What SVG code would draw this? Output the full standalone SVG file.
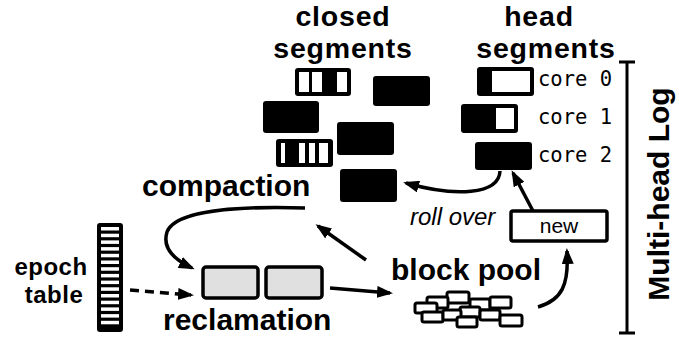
<svg xmlns="http://www.w3.org/2000/svg" width="679" height="347" viewBox="0 0 679 347">
  <style>
    .title { font-family: "Liberation Sans", Arial, sans-serif; font-weight: bold; font-size: 28.5px; letter-spacing: 0.8px; fill: #000; }
    .label { font-family: "Liberation Sans", Arial, sans-serif; font-weight: bold; font-size: 30px; fill: #000; }
    .small { font-family: "Liberation Sans", Arial, sans-serif; font-weight: bold; font-size: 24px; letter-spacing: 0.5px; fill: #000; }
    .mono { font-family: "DejaVu Sans Mono", "Liberation Mono", monospace; font-size: 20.5px; fill: #000; }
    .seg { fill: #000; }
    .hole { fill: #fff; }
    .gray { fill: #e0e0e0; stroke: #000; stroke-width: 3.5; }
    .brick { fill: #fff; stroke: #000; stroke-width: 3; }
    .conn { fill: none; stroke: #000; stroke-width: 3.5; }
  </style>
  <defs>
    <marker id="arrow" markerUnits="userSpaceOnUse" markerWidth="16" markerHeight="12" refX="13" refY="6" orient="auto">
      <path d="M0,0 L16,6 L0,12 z" fill="#000"/>
    </marker>
  </defs>

  <rect width="679" height="347" fill="#fff"/>

  <!-- column headings (two-line labels) -->
  <g id="closed-title">
    <text class="title" text-anchor="middle"><tspan x="343" y="25.5">closed</tspan><tspan x="343" y="57.5">segments</tspan></text>
  </g>
  <g id="head-title">
    <text class="title" text-anchor="middle"><tspan x="539" y="25.5">head</tspan><tspan x="546" y="57.5">segments</tspan></text>
  </g>

  <!-- closed segments -->
  <g id="closed-segments">
    <rect class="seg" x="295" y="68" width="56" height="28" rx="3"/>
    <rect class="hole" x="299" y="72" width="10" height="20"/>
    <rect class="hole" x="312" y="72" width="10" height="20"/>
    <rect class="hole" x="337" y="72" width="10" height="20"/>

    <rect class="seg" x="373" y="76" width="57" height="30" rx="3"/>
    <rect class="seg" x="263" y="101" width="56" height="32" rx="3"/>
    <rect class="seg" x="337" y="122" width="57" height="33" rx="3"/>

    <rect class="seg" x="276" y="139" width="57" height="28" rx="3"/>
    <rect class="hole" x="281" y="143" width="4" height="20"/>
    <rect class="hole" x="299" y="143" width="6" height="20"/>
    <rect class="hole" x="309" y="143" width="6" height="20"/>
    <rect class="hole" x="319" y="143" width="9" height="20"/>

    <rect class="seg" x="340" y="169" width="57" height="33" rx="3"/>
  </g>

  <!-- head segments, one per core -->
  <g id="head-core0">
    <rect class="seg" x="477" y="67" width="57" height="29" rx="3"/>
    <rect class="hole" x="492" y="71" width="38" height="21"/>
    <text class="mono" x="538" y="86">core 0</text>
  </g>
  <g id="head-core1">
    <rect class="seg" x="461" y="104" width="57" height="29" rx="3"/>
    <rect class="hole" x="496" y="108" width="18" height="21"/>
    <text class="mono" x="538" y="124">core 1</text>
  </g>
  <g id="head-core2">
    <rect class="seg" x="475" y="142" width="57" height="28" rx="3"/>
    <text class="mono" x="538" y="162">core 2</text>
  </g>

  <!-- new segment -->
  <g id="new-segment">
    <rect x="511" y="211" width="96" height="30" fill="#fff" stroke="#000" stroke-width="3.5" rx="2"/>
    <text x="559" y="233" text-anchor="middle" font-family="Liberation Sans, Arial, sans-serif" font-size="21">new</text>
  </g>

  <text id="roll-over" x="410" y="225" font-family="Liberation Sans, Arial, sans-serif" font-style="italic" font-size="24">roll over</text>

  <g id="compaction">
    <text class="label" x="142" y="196">compaction</text>
  </g>

  <g id="reclamation">
    <rect class="gray" x="203" y="267" width="55" height="31" rx="3"/>
    <rect class="gray" x="266" y="267" width="56" height="31" rx="3"/>
    <text class="label" x="163" y="330">reclamation</text>
  </g>

  <g id="block-pool">
    <text class="label" x="391" y="280">block pool</text>
    <rect class="brick" x="447" y="292" width="22" height="11" rx="2"/>
    <rect class="brick" x="427" y="297" width="21" height="11" rx="2"/>
    <rect class="brick" x="470" y="299" width="20" height="11" rx="2"/>
    <rect class="brick" x="490" y="297" width="21" height="11" rx="2"/>
    <rect class="brick" x="415" y="303" width="22" height="10" rx="2"/>
    <rect class="brick" x="460" y="307" width="20" height="10" rx="2"/>
    <rect class="brick" x="480" y="310" width="20" height="10" rx="2"/>
    <rect class="brick" x="422" y="312" width="21" height="10" rx="2"/>
    <rect class="brick" x="443" y="310" width="18" height="10" rx="2"/>
    <rect class="brick" x="457" y="317" width="20" height="10" rx="2"/>
    <rect class="brick" x="500" y="315" width="22" height="11" rx="2"/>
  </g>

  <g id="epoch-table">
    <rect x="97" y="223" width="26" height="109" rx="3" fill="#000"/>
    <g fill="#fff">
      <rect x="101" y="227" width="18" height="3.5"/>
      <rect x="101" y="233.7" width="18" height="3.5"/>
      <rect x="101" y="240.4" width="18" height="3.5"/>
      <rect x="101" y="247.1" width="18" height="3.5"/>
      <rect x="101" y="253.8" width="18" height="3.5"/>
      <rect x="101" y="260.5" width="18" height="3.5"/>
      <rect x="101" y="267.2" width="18" height="3.5"/>
      <rect x="101" y="273.9" width="18" height="3.5"/>
      <rect x="101" y="280.6" width="18" height="3.5"/>
      <rect x="101" y="287.3" width="18" height="3.5"/>
      <rect x="101" y="294" width="18" height="3.5"/>
      <rect x="101" y="300.7" width="18" height="3.5"/>
      <rect x="101" y="307.4" width="18" height="3.5"/>
      <rect x="101" y="314.1" width="18" height="3.5"/>
      <rect x="101" y="320.8" width="18" height="3.5"/>
    </g>
    <text class="small" text-anchor="middle"><tspan x="51" y="275">epoch</tspan><tspan x="54" y="302.5">table</tspan></text>
  </g>

  <g id="multi-head-log">
    <path d="M627,62 V333 M619,62 H635 M619,333 H635" fill="none" stroke="#000" stroke-width="3"/>
    <text class="label" transform="translate(669,194) rotate(-90)" text-anchor="middle" font-size="33">Multi-head Log</text>
  </g>

  <!-- connectors -->
  <g id="connectors">
    <path class="conn" d="M500,171 C499,195 455,197 406,183" marker-end="url(#arrow)"/>
    <path class="conn" d="M533,211 L513,173" marker-end="url(#arrow)"/>
    <path class="conn" d="M538,307 C562,300 569,285 567,251" marker-end="url(#arrow)"/>
    <path class="conn" d="M366,260 L318,226" marker-end="url(#arrow)"/>
    <path class="conn" d="M330,288 L390,293" marker-end="url(#arrow)"/>
    <path class="conn" d="M305,208 C240,206 175,210 167,232 C162,248 175,260 192,268" marker-end="url(#arrow)"/>
    <path class="conn" d="M130,290 L191,295" stroke-dasharray="9,6" marker-end="url(#arrow)"/>
  </g>
</svg>
